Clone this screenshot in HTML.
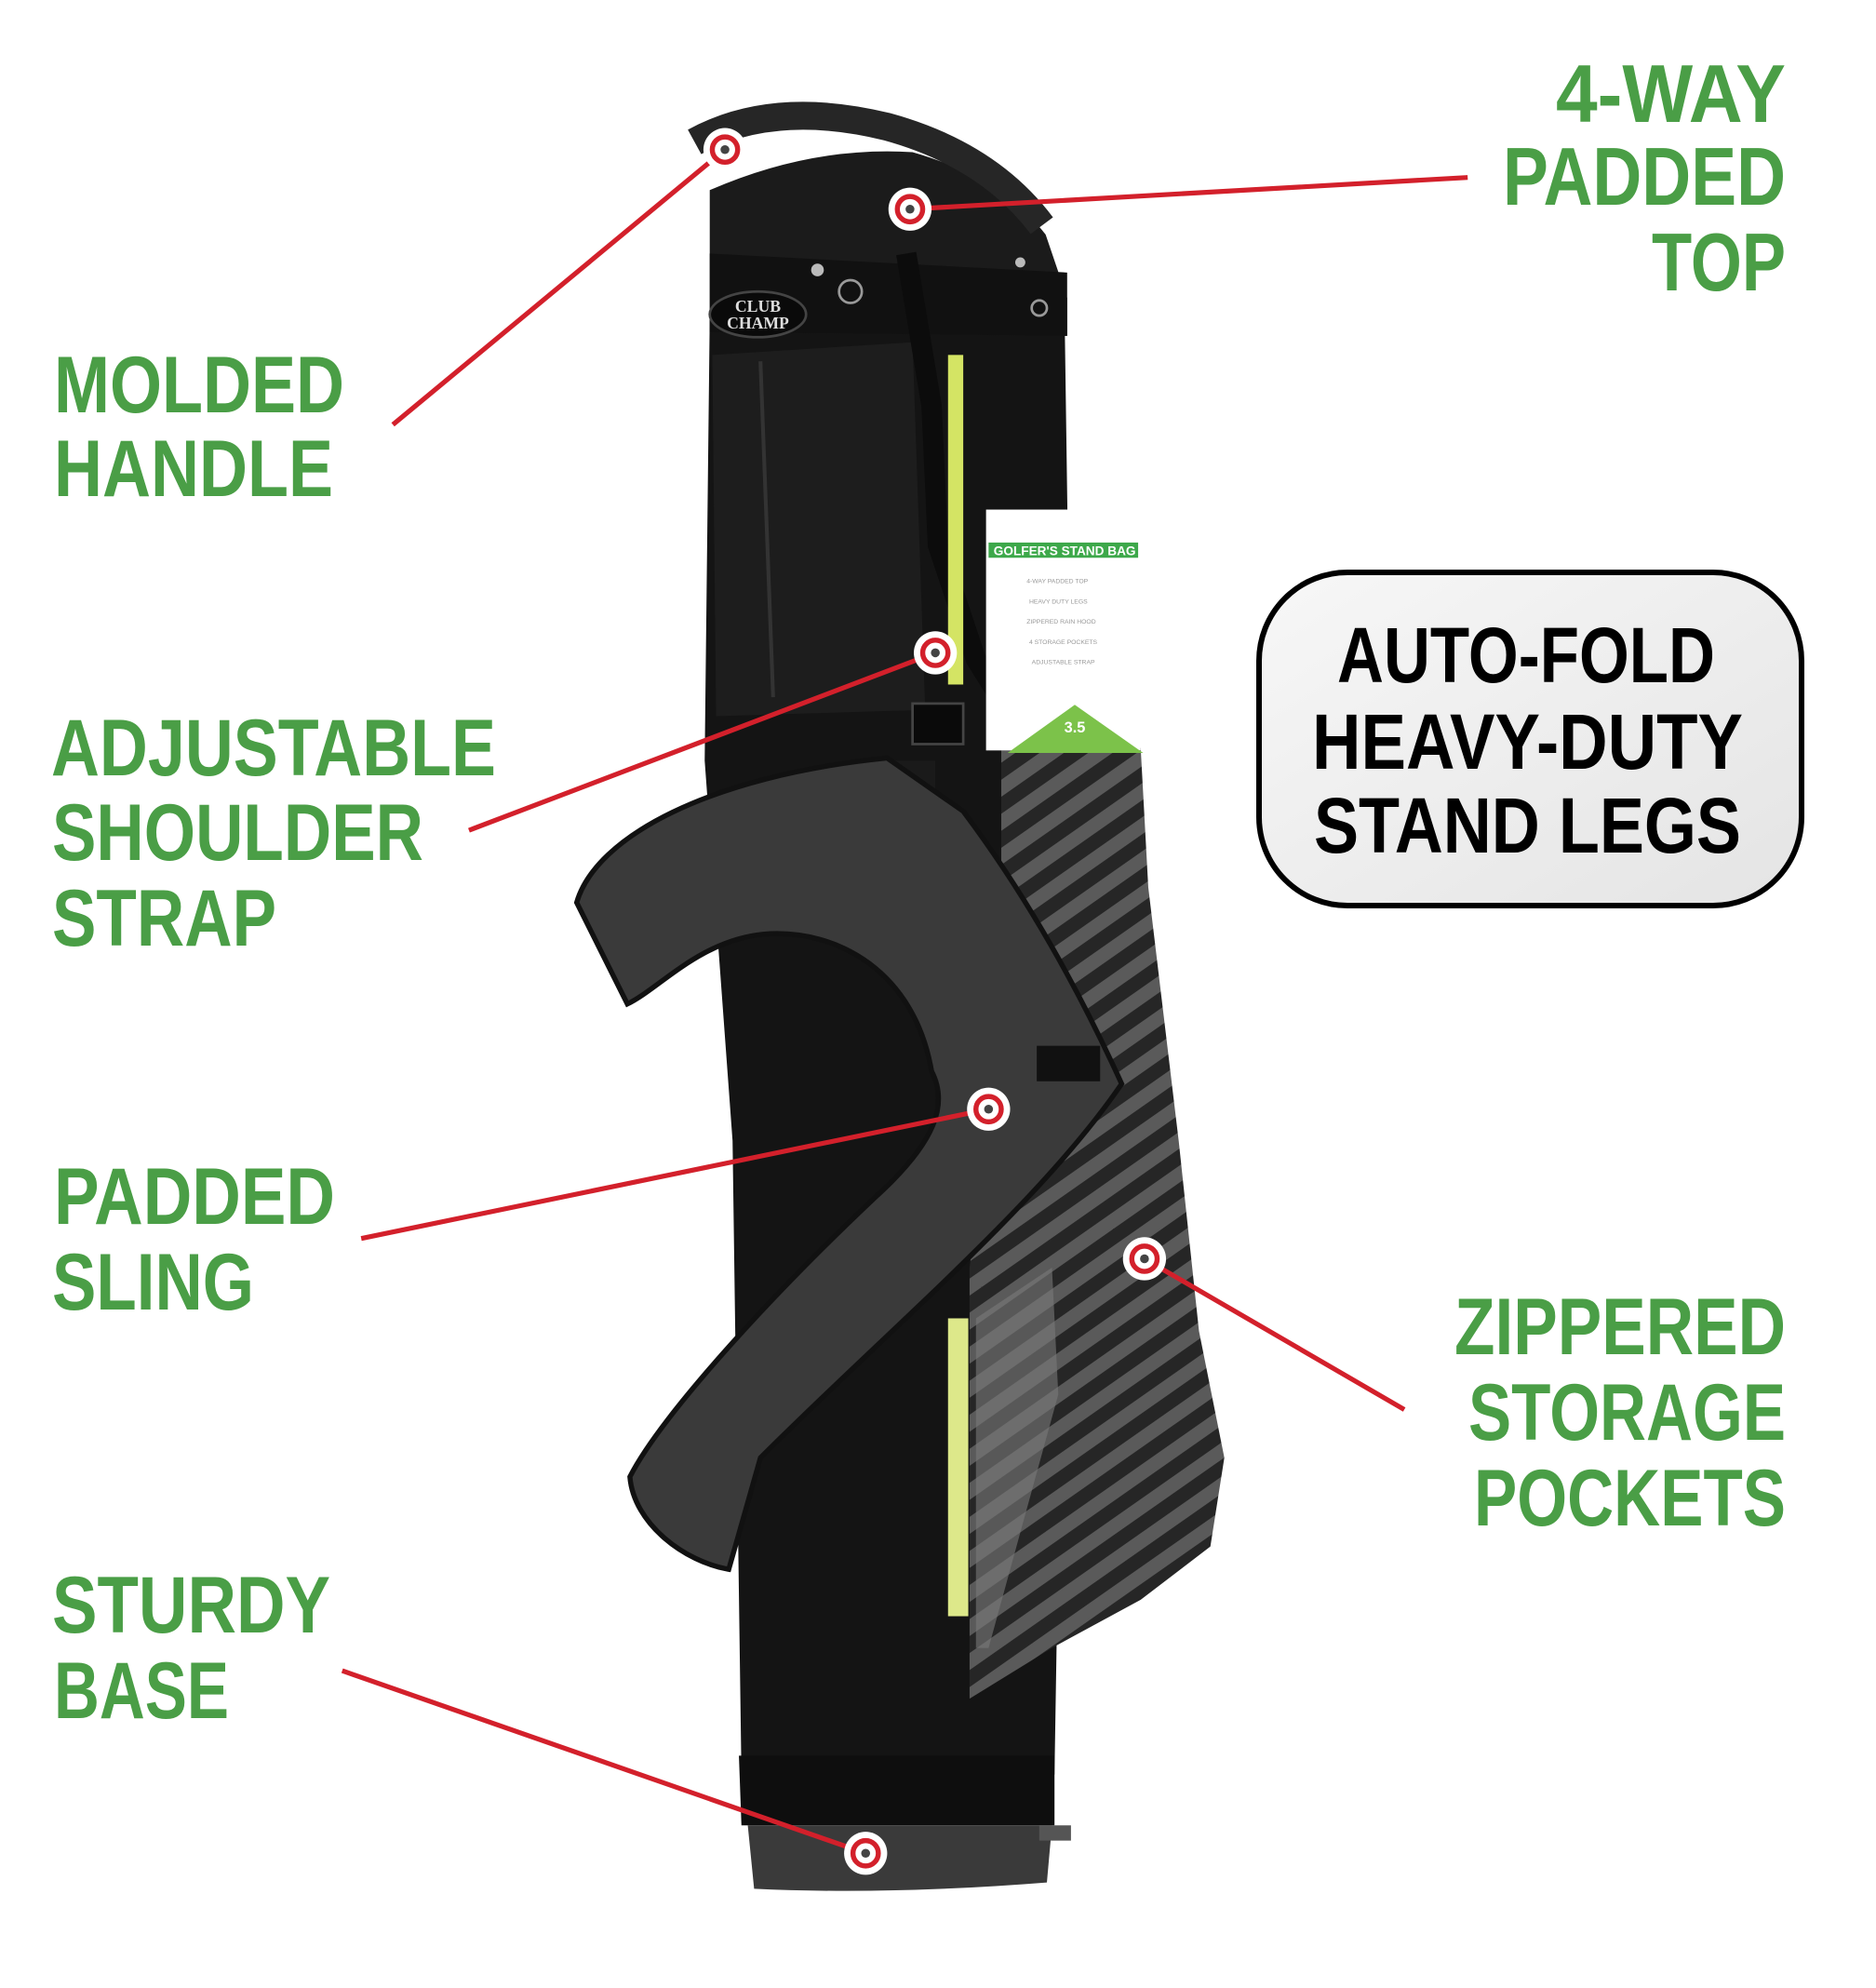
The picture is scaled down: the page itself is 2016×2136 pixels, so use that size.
<!DOCTYPE html>
<html><head><meta charset="utf-8"><style>
html,body{margin:0;padding:0;background:#fff;}
svg{display:block;}
</style></head><body>
<svg width="2016" height="2136" viewBox="0 0 2016 2136" xmlns="http://www.w3.org/2000/svg">
<defs>
<pattern id="stripes" patternUnits="userSpaceOnUse" width="22" height="22" patternTransform="rotate(-35)">
<rect width="22" height="22" fill="#5a5a5a"/>
<rect width="22" height="11" fill="#262626"/>
</pattern>
<linearGradient id="boxg" x1="0" y1="0" x2="1" y2="1">
<stop offset="0" stop-color="#f7f7f7"/><stop offset="1" stop-color="#e4e4e4"/>
</linearGradient>
</defs>

<g transform="scale(1.362)">
<!-- lower body -->
<path d="M560,250 L840,250 L845,600 L832,1400 L585,1400 L578,900 L556,600 Z" fill="#141414"/>
<!-- base band & cup -->
<path d="M583,1385 L832,1385 L832,1440 L585,1440 Z" fill="#0e0e0e"/>
<path d="M590,1440 L830,1440 L826,1485 Q700,1495 595,1490 Z" fill="#3a3a3a"/>
<path d="M820,1440 L845,1440 L845,1452 L820,1452 Z" fill="#555"/>
<!-- upper pocket -->
<path d="M562,280 L720,270 L730,560 L565,565 Z" fill="#1d1d1d"/>
<path d="M600,285 L610,550" stroke="#333" stroke-width="3" fill="none"/>
<!-- collar -->
<path d="M560,150 Q640,115 720,120 Q790,140 825,185 L842,235 L842,265 L560,262 Z" fill="#1b1b1b"/>
<path d="M560,200 L842,215 L842,265 L560,262 Z" fill="#111"/>
<ellipse cx="598" cy="248" rx="38" ry="18" fill="#0a0a0a" stroke="#444" stroke-width="2"/>
<text x="598" y="246" font-family="Liberation Serif,serif" font-size="13" font-weight="bold" fill="#ddd" text-anchor="middle">CLUB</text>
<text x="598" y="259" font-family="Liberation Serif,serif" font-size="13" font-weight="bold" fill="#ddd" text-anchor="middle">CHAMP</text>
<circle cx="645" cy="213" r="5" fill="#bbb"/>
<circle cx="671" cy="230" r="9" fill="none" stroke="#999" stroke-width="2"/>
<circle cx="805" cy="207" r="4" fill="#bbb"/>
<circle cx="820" cy="243" r="6" fill="none" stroke="#999" stroke-width="2"/>
<!-- handle -->
<path d="M548,112 Q610,78 700,100 Q780,122 822,178" stroke="#262626" stroke-width="22" fill="none"/>
<!-- strap on upper body -->
<path d="M715,200 L735,320 L740,430 L770,520 L795,560" stroke="#0c0c0c" stroke-width="16" fill="none"/>
<!-- striped panel -->
<path d="M790,592 L900,590 L906,700 L930,900 L946,1050 L966,1150 L955,1220 L900,1262 L830,1300 L765,1340 L765,1000 L790,800 Z" fill="url(#stripes)"/>
<path d="M770,1040 L830,1000 L835,1100 L780,1300 L770,1300 Z" fill="#7a7a7a" opacity="0.6"/>
<!-- zippers -->
<rect x="748" y="280" width="12" height="260" fill="#d4e464"/>
<rect x="748" y="1040" width="16" height="235" fill="#dde88a"/>
<!-- tag -->
<rect x="778" y="402" width="122" height="190" fill="#fff"/>
<rect x="780" y="428" width="118" height="12" fill="#3da84a"/>
<text x="784" y="438" font-family="Liberation Sans,sans-serif" font-size="10" font-weight="bold" fill="#fff">GOLFER'S STAND BAG</text>
<g font-family="Liberation Sans,sans-serif" font-size="5" fill="#999">
<text x="810" y="460">4-WAY PADDED TOP</text><text x="812" y="476">HEAVY DUTY LEGS</text>
<text x="810" y="492">ZIPPERED RAIN HOOD</text><text x="812" y="508">4 STORAGE POCKETS</text>
<text x="814" y="524">ADJUSTABLE STRAP</text></g>
<path d="M795,594 L848,556 L902,594 Z" fill="#7cc24a"/>
<text x="848" y="578" font-family="Liberation Sans,sans-serif" font-size="12" font-weight="bold" fill="#fff" text-anchor="middle">3.5</text>
<!-- buckle -->
<rect x="720" y="555" width="40" height="32" fill="#0a0a0a" stroke="#444" stroke-width="2"/>
<rect x="700" y="600" width="38" height="40" fill="#1a1a1a"/>
<!-- sling -->
<path d="M455,712 C470,660 560,612 700,598 L760,640 C820,720 860,800 885,855 C820,950 700,1050 600,1150 L575,1238 C540,1232 500,1202 497,1165 C520,1120 600,1030 690,945 C740,900 748,870 735,845 C722,768 662,732 602,737 C552,742 520,780 495,792 Z" fill="#3a3a3a" stroke="#111" stroke-width="4"/>
<rect x="818" y="825" width="50" height="28" fill="#111"/>

<!-- connector lines -->
<g stroke="#d3202b" stroke-width="3.8" fill="none">
<line x1="310" y1="335" x2="572" y2="118"/>
<line x1="718" y1="165" x2="1158" y2="140"/>
<line x1="370" y1="655" x2="738" y2="515"/>
<line x1="285" y1="977" x2="780" y2="875"/>
<line x1="903" y1="993" x2="1108" y2="1112"/>
<line x1="270" y1="1318" x2="683" y2="1462"/>
</g>
<g id="m">
<g fill="#fff"><circle cx="572" cy="118" r="17"/><circle cx="718" cy="165" r="17"/><circle cx="738" cy="515" r="17"/><circle cx="780" cy="875" r="17"/><circle cx="903" cy="993" r="17"/><circle cx="683" cy="1462" r="17"/></g>
<g fill="#fff" stroke="#d3202b" stroke-width="4"><circle cx="572" cy="118" r="10"/><circle cx="718" cy="165" r="10"/><circle cx="738" cy="515" r="10"/><circle cx="780" cy="875" r="10"/><circle cx="903" cy="993" r="10"/><circle cx="683" cy="1462" r="10"/></g>
<g fill="#444"><circle cx="572" cy="118" r="3.5"/><circle cx="718" cy="165" r="3.5"/><circle cx="738" cy="515" r="3.5"/><circle cx="780" cy="875" r="3.5"/><circle cx="903" cy="993" r="3.5"/><circle cx="683" cy="1462" r="3.5"/></g>
</g>
</g>

<!-- labels -->
<g font-family="Liberation Sans,sans-serif" font-weight="bold" font-size="86" fill="#4a9e46" lengthAdjust="spacingAndGlyphs">
<text x="58" y="443" textLength="312" lengthAdjust="spacingAndGlyphs">MOLDED</text>
<text x="58" y="533" textLength="300" lengthAdjust="spacingAndGlyphs">HANDLE</text>
<text x="55" y="833" textLength="478" lengthAdjust="spacingAndGlyphs">ADJUSTABLE</text>
<text x="56" y="924" textLength="399" lengthAdjust="spacingAndGlyphs">SHOULDER</text>
<text x="56" y="1016" textLength="241" lengthAdjust="spacingAndGlyphs">STRAP</text>
<text x="58" y="1315" textLength="302" lengthAdjust="spacingAndGlyphs">PADDED</text>
<text x="56" y="1407" textLength="217" lengthAdjust="spacingAndGlyphs">SLING</text>
<text x="56" y="1754" textLength="299" lengthAdjust="spacingAndGlyphs">STURDY</text>
<text x="58" y="1846" textLength="188" lengthAdjust="spacingAndGlyphs">BASE</text>
<text x="1672" y="131" font-size="88" textLength="247" lengthAdjust="spacingAndGlyphs">4-WAY</text>
<text x="1615" y="220" font-size="88" textLength="304" lengthAdjust="spacingAndGlyphs">PADDED</text>
<text x="1775" y="312" font-size="88" textLength="144" lengthAdjust="spacingAndGlyphs">TOP</text>
<text x="1563" y="1455" textLength="356" lengthAdjust="spacingAndGlyphs">ZIPPERED</text>
<text x="1578" y="1547" textLength="341" lengthAdjust="spacingAndGlyphs">STORAGE</text>
<text x="1584" y="1639" textLength="335" lengthAdjust="spacingAndGlyphs">POCKETS</text>
</g>

<rect x="1353" y="615" width="583" height="358" rx="95" fill="url(#boxg)" stroke="#000" stroke-width="6"/>
<g font-family="Liberation Sans,sans-serif" font-weight="bold" font-size="84" fill="#000">
<text x="1437" y="733" textLength="406" lengthAdjust="spacingAndGlyphs">AUTO-FOLD</text>
<text x="1410" y="826" textLength="463" lengthAdjust="spacingAndGlyphs">HEAVY-DUTY</text>
<text x="1412" y="916" textLength="459" lengthAdjust="spacingAndGlyphs">STAND LEGS</text>
</g>
</svg>
</body></html>
